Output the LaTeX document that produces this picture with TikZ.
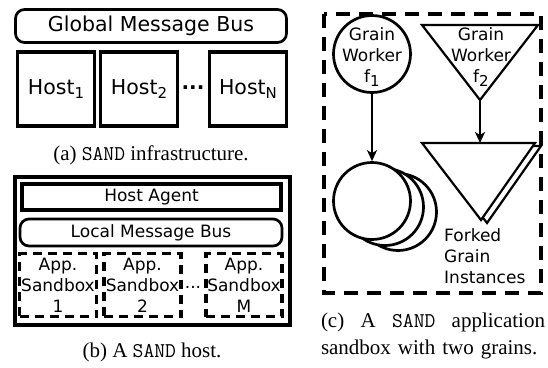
\documentclass[tikz,border=0pt]{standalone}
\usepackage{fontspec}
\setmainfont{Liberation Serif}
\newfontfamily\diafont{DejaVu Sans}
\usetikzlibrary{arrows.meta}
\newcommand{\lowsub}[1]{\raisebox{-4pt}{\fontsize{15}{15}\selectfont #1}}

\begin{document}
\begin{tikzpicture}[x=1pt,y=-1pt,
  word/.style={font=\diafont\fontsize{17}{21}\selectfont, align=center, inner sep=0pt},
  bigword/.style={font=\diafont\fontsize{20.5}{24}\selectfont, inner sep=0pt},
  hostbox/.style={bigword, draw, line width=3.2pt, minimum width=77pt, minimum height=74pt},
  busbox/.style={draw, rounded corners=9pt, line width=2.7pt},
  sandbox/.style={word, draw, line width=3.2pt, dash pattern=on 9pt off 6pt,
    minimum width=77pt, minimum height=63pt},
  caption/.style={font=\fontsize{21}{27}\selectfont, inner sep=0pt},
  flow/.style={line width=2.2pt, -{Stealth[length=11pt,width=10pt,inset=3pt]}}
]
\useasboundingbox (0,0) rectangle (548,367);

% (a) infrastructure
\node[busbox, bigword, minimum width=271pt, minimum height=33pt] (gbus) at (151,26) {Global Message Bus};
\node[hostbox] (host1) at (56,89) {Host\lowsub{1}};
\node[hostbox] (host2) at (139,89) {Host\lowsub{2}};
\node[bigword, font=\diafont\bfseries\fontsize{20}{24}\selectfont] (hdots) at (193,88) {...};
\node[hostbox] (hostN) at (248,89) {Host\lowsub{N}};
\node[caption] (capa) at (151,155) {(a) \texttt{SAND} infrastructure.};

% (b) host
\draw[line width=4pt] (15,177) rectangle (290,325);
\node[word, draw, line width=3.7pt, minimum width=259pt, minimum height=26pt] (agent) at (151.5,197) {Host Agent};
\node[word, busbox, minimum width=262pt, minimum height=27pt] (lbus) at (151,232.5) {Local Message Bus};
\node[sandbox] (sbox1) at (58,285) {App.\\Sandbox\\1};
\node[sandbox] (sbox2) at (142.5,285) {App.\\Sandbox\\2};
\node[word] (sdots) at (193,287) {...};
\node[sandbox, minimum width=76pt] (sboxM) at (244,285) {App.\\Sandbox\\M};
\node[caption] (capb) at (152,352) {(b) A \texttt{SAND} host.};

% (c) application sandbox
\draw[line width=3.5pt, dash pattern=on 14pt off 9pt] (324,14) rectangle (541,293);

% grain worker f1 and its forked instances
\node[circle, draw, line width=2.7pt, minimum size=77pt, inner sep=0pt] (f1) at (372,54) {};
\node[word] (f1text) at (372,57) {Grain\\Worker\\f\lowsub{1}};
\node[circle, draw, fill=white, line width=2.7pt, minimum size=77pt] (inst3) at (398,212) {};
\node[circle, draw, fill=white, line width=2.7pt, minimum size=77pt] (inst2) at (385,207) {};
\node[circle, draw, fill=white, line width=2.7pt, minimum size=77pt] (inst1) at (372,201) {};
\draw[flow] (f1) -- (inst1);

% grain worker f2 and its forked instances
\draw[line width=2.2pt, line join=miter] (422,25) -- (538,25) -- (480,100) -- cycle;
\coordinate (f2tip) at (480,100);
\node[word] (f2text) at (481,57) {Grain\\Worker\\f\lowsub{2}};
\draw[line width=2.2pt, fill=white] (428,146) -- (541,146) -- (487,223) -- cycle;
\draw[line width=2.2pt, fill=white] (422,143) -- (535,143) -- (481,220) -- cycle;
\coordinate (fork2) at (480,143);
\draw[flow] (f2tip) -- (fork2);
\node[word, align=left, anchor=west] (forked) at (444,256) {Forked\\Grain\\Instances};

\node[caption, text width=224pt, align=left] (capc) at (433,336)
  {\hbox to 224pt{(c)\hfill A\hfill\texttt{SAND}\hfill application}\\sandbox with two grains.};
\end{tikzpicture}
\end{document}
